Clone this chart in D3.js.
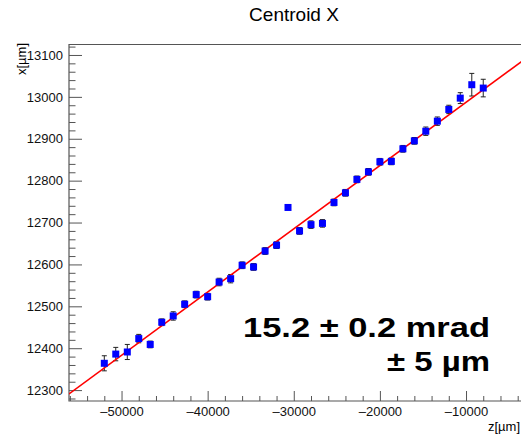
<!DOCTYPE html>
<html>
<head>
<meta charset="utf-8">
<script src="https://cdn.jsdelivr.net/npm/d3@7"></script>
<style>
  body { margin: 0; background: #fff; }
  svg { display: block; font-family: "Liberation Sans", Arial, sans-serif; }
</style>
</head>
<body>
<div id="chart"></div>
<script>
const zPos = [-52000, -50670, -49330, -48000, -46670, -45330, -44000, -42670, -41330, -40000,
              -38670, -37330, -36000, -34670, -33330, -32000, -30670, -29330, -28000, -26670,
              -25330, -24000, -22670, -21330, -20000, -18670, -17330, -16000, -14670, -13330,
              -12000, -10670, -9330, -8000];
const xCentroid = [12364, 12386, 12391, 12423, 12409, 12462, 12477, 12505, 12528, 12523,
                   12558, 12566, 12598, 12594, 12632, 12646, 12736, 12680, 12695, 12698,
                   12748, 12771, 12803, 12821, 12845, 12846, 12876, 12895, 12918, 12942,
                   12970, 12997, 13029, 13021];
const xErr = [18, 16, 18, 10, 8, 8, 10, 8, 8, 8,
              9, 10, 8, 8, 8, 8, 5, 8, 9, 9,
              8, 8, 8, 8, 8, 8, 8, 8, 10, 10,
              10, 13, 27, 21];

// linear fit: x = p0 + p1*z
const fitP0 = 13138;
const fitP1 = 0.0151;

const W = 521, H = 434;
const frame = {left: 69, top: 44.5, right: 522, bottom: 401};

const svg = d3.select('#chart').append('svg')
    .attr('width', W).attr('height', H);

const xScale = d3.scaleLinear().domain([-56100, -3500]).range([frame.left, frame.right]);
const yScale = d3.scaleLinear().domain([12274, 13125]).range([frame.bottom, frame.top]);

svg.append('text')
    .attr('x', 294).attr('y', 20.5)
    .attr('text-anchor', 'middle')
    .style('font-size', '19px')
    .text('Centroid X');

// axes, ticks pointing into the frame
const fmt = d => d < 0 ? '\u2013' + Math.abs(d) : String(d);

const yMinor = d3.range(12280, 13125, 20).filter(v => v % 100 !== 0);
svg.append('g')
    .attr('transform', `translate(${frame.left},0)`)
    .call(d3.axisLeft(yScale).tickValues(yMinor).tickSize(-6.5).tickSizeOuter(0).tickFormat(''))
    .call(g => g.select('.domain').remove());
svg.append('g')
    .attr('class', 'yaxis')
    .attr('transform', `translate(${frame.left},0)`)
    .call(d3.axisLeft(yScale).tickValues(d3.range(12300, 13101, 100)).tickSize(-13).tickSizeOuter(0).tickPadding(6).tickFormat(fmt))
    .call(g => g.select('.domain').remove());

const xMinor = d3.range(-56000, -3500, 2000).filter(v => v % 10000 !== 0);
svg.append('g')
    .attr('transform', `translate(0,${frame.bottom})`)
    .call(d3.axisBottom(xScale).tickValues(xMinor).tickSize(-5).tickSizeOuter(0).tickFormat(''))
    .call(g => g.select('.domain').remove());
svg.append('g')
    .attr('class', 'xaxis')
    .attr('transform', `translate(0,${frame.bottom})`)
    .call(d3.axisBottom(xScale).tickValues(d3.range(-50000, -9999, 10000)).tickSize(-10).tickSizeOuter(0).tickPadding(6).tickFormat(fmt))
    .call(g => g.select('.domain').remove());

svg.selectAll('.tick line').attr('stroke', '#555');
svg.selectAll('.tick text').style('font-size', '13px').attr('fill', '#111')
    .style('font-family', '"Liberation Sans", Arial, sans-serif');

// frame (right side runs off the canvas)
svg.append('path')
    .attr('d', `M${frame.right},${frame.top}H${frame.left}V${frame.bottom}H${frame.right}`)
    .attr('fill', 'none').attr('stroke', '#555').attr('stroke-width', 1.2);

svg.append('text')
    .attr('transform', `translate(26,43) rotate(-90)`)
    .attr('text-anchor', 'end')
    .style('font-size', '13px')
    .text('x[\u00b5m]');
svg.append('text')
    .attr('x', 520).attr('y', 431)
    .attr('text-anchor', 'end')
    .style('font-size', '13px')
    .text('z[\u00b5m]');

svg.append('clipPath').attr('id', 'frameclip').append('rect')
    .attr('x', frame.left).attr('y', frame.top)
    .attr('width', frame.right - frame.left).attr('height', frame.bottom - frame.top);

const plot = svg.append('g').attr('clip-path', 'url(#frameclip)');

const data = zPos.map((z, i) => ({z: z, x: xCentroid[i], e: xErr[i]}));

// error bars
const bars = plot.selectAll('g.err').data(data).join('g').attr('class', 'err')
    .attr('stroke', '#222').attr('stroke-width', 1);
bars.append('line')
    .attr('x1', d => xScale(d.z)).attr('x2', d => xScale(d.z))
    .attr('y1', d => yScale(d.x - d.e)).attr('y2', d => yScale(d.x + d.e));
bars.append('line')
    .attr('x1', d => xScale(d.z) - 2.5).attr('x2', d => xScale(d.z) + 2.5)
    .attr('y1', d => yScale(d.x - d.e)).attr('y2', d => yScale(d.x - d.e));
bars.append('line')
    .attr('x1', d => xScale(d.z) - 2.5).attr('x2', d => xScale(d.z) + 2.5)
    .attr('y1', d => yScale(d.x + d.e)).attr('y2', d => yScale(d.x + d.e));

// fit line
const zDom = xScale.domain();
plot.append('line')
    .attr('x1', xScale(zDom[0])).attr('y1', yScale(fitP0 + fitP1 * zDom[0]))
    .attr('x2', xScale(zDom[1])).attr('y2', yScale(fitP0 + fitP1 * zDom[1]))
    .attr('stroke', '#ff0000').attr('stroke-width', 1.6);

// markers
plot.selectAll('rect.pt').data(data).join('rect').attr('class', 'pt')
    .attr('x', d => xScale(d.z) - 3.5).attr('y', d => yScale(d.x) - 3.5)
    .attr('width', 7).attr('height', 7)
    .attr('fill', '#0000ff');

// fit result
const txt = svg.append('g')
    .style('font-family', '"Liberation Sans", Arial, sans-serif')
    .style('font-weight', 'bold').style('font-size', '28px');
txt.append('text').attr('x', 243).attr('y', 337)
    .attr('textLength', 247).attr('lengthAdjust', 'spacingAndGlyphs')
    .text('15.2 \u00b1 0.2 mrad');
txt.append('text').attr('x', 387).attr('y', 371)
    .attr('textLength', 103).attr('lengthAdjust', 'spacingAndGlyphs')
    .text('\u00b1 5 \u00b5m');
</script>
</body>
</html>
